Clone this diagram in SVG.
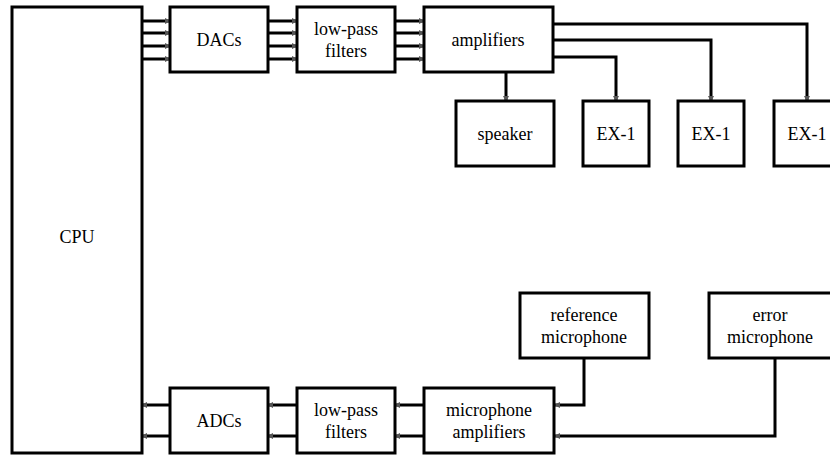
<svg xmlns="http://www.w3.org/2000/svg" width="830" height="455" viewBox="0 0 830 455">
<style>
.box{fill:#fff;stroke:#000;stroke-width:3}
.t{font-family:"Liberation Serif","DejaVu Serif",serif;font-size:18px;text-anchor:middle;fill:#000}
.c{fill:none;stroke:#000;stroke-width:3;marker-end:url(#ah)}
</style>
<defs>
<marker id="ah" viewBox="0 0 6 6" refX="5" refY="3" markerWidth="2" markerHeight="2" orient="auto" markerUnits="strokeWidth">
<path d="M0,0 L6,3 L0,6 Z" fill="#555"/>
</marker>
</defs>
<g id="connectors">
<path class="c" d="M142,21 H170"/>
<path class="c" d="M142,33 H170"/>
<path class="c" d="M142,46 H170"/>
<path class="c" d="M142,59 H170"/>
<path class="c" d="M268,21 H297"/>
<path class="c" d="M268,33 H297"/>
<path class="c" d="M268,46 H297"/>
<path class="c" d="M268,59 H297"/>
<path class="c" d="M395,21 H424"/>
<path class="c" d="M395,33 H424"/>
<path class="c" d="M395,46 H424"/>
<path class="c" d="M395,59 H424"/>
<path class="c" d="M553,24 H807 V101"/>
<path class="c" d="M553,40 H711 V101"/>
<path class="c" d="M553,57 H616 V101"/>
<path class="c" d="M506,72 V101"/>
<path class="c" d="M584,358 V405 H555"/>
<path class="c" d="M775,358 V436 H555"/>
<path class="c" d="M424,405 H395"/>
<path class="c" d="M424,436 H395"/>
<path class="c" d="M297,405 H268"/>
<path class="c" d="M297,436 H268"/>
<path class="c" d="M170,405 H142"/>
<path class="c" d="M170,436 H142"/>
</g>
<g id="cpu"><rect class="box" x="12" y="7" width="130" height="446"/><text class="t" x="77" y="243">CPU</text></g>
<g id="dacs"><rect class="box" x="170" y="7" width="98" height="65"/><text class="t" x="219" y="46">DACs</text></g>
<g id="lpf1"><rect class="box" x="297" y="7" width="98" height="65"/><text class="t" x="346" y="35">low-pass</text><text class="t" x="346" y="57">filters</text></g>
<g id="amps"><rect class="box" x="424" y="7" width="129" height="65"/><text class="t" x="488" y="46">amplifiers</text></g>
<g id="speaker"><rect class="box" x="456" y="101" width="98" height="65"/><text class="t" x="505" y="140">speaker</text></g>
<g id="ex1a"><rect class="box" x="583" y="101" width="66" height="65"/><text class="t" x="616" y="140">EX-1</text></g>
<g id="ex1b"><rect class="box" x="678" y="101" width="66" height="65"/><text class="t" x="711" y="140">EX-1</text></g>
<g id="ex1c"><rect class="box" x="774" y="101" width="66" height="65"/><text class="t" x="807" y="140">EX-1</text></g>
<g id="refmic"><rect class="box" x="520" y="293" width="129" height="65"/><text class="t" x="584" y="321">reference</text><text class="t" x="584" y="343">microphone</text></g>
<g id="errmic"><rect class="box" x="709" y="293" width="123" height="65"/><text class="t" x="770" y="321">error</text><text class="t" x="770" y="343">microphone</text></g>
<g id="micamps"><rect class="box" x="424" y="388" width="130" height="65"/><text class="t" x="489" y="416">microphone</text><text class="t" x="489" y="438">amplifiers</text></g>
<g id="lpf2"><rect class="box" x="297" y="388" width="98" height="65"/><text class="t" x="346" y="416">low-pass</text><text class="t" x="346" y="438">filters</text></g>
<g id="adcs"><rect class="box" x="170" y="388" width="98" height="65"/><text class="t" x="219" y="427">ADCs</text></g>
</svg>
